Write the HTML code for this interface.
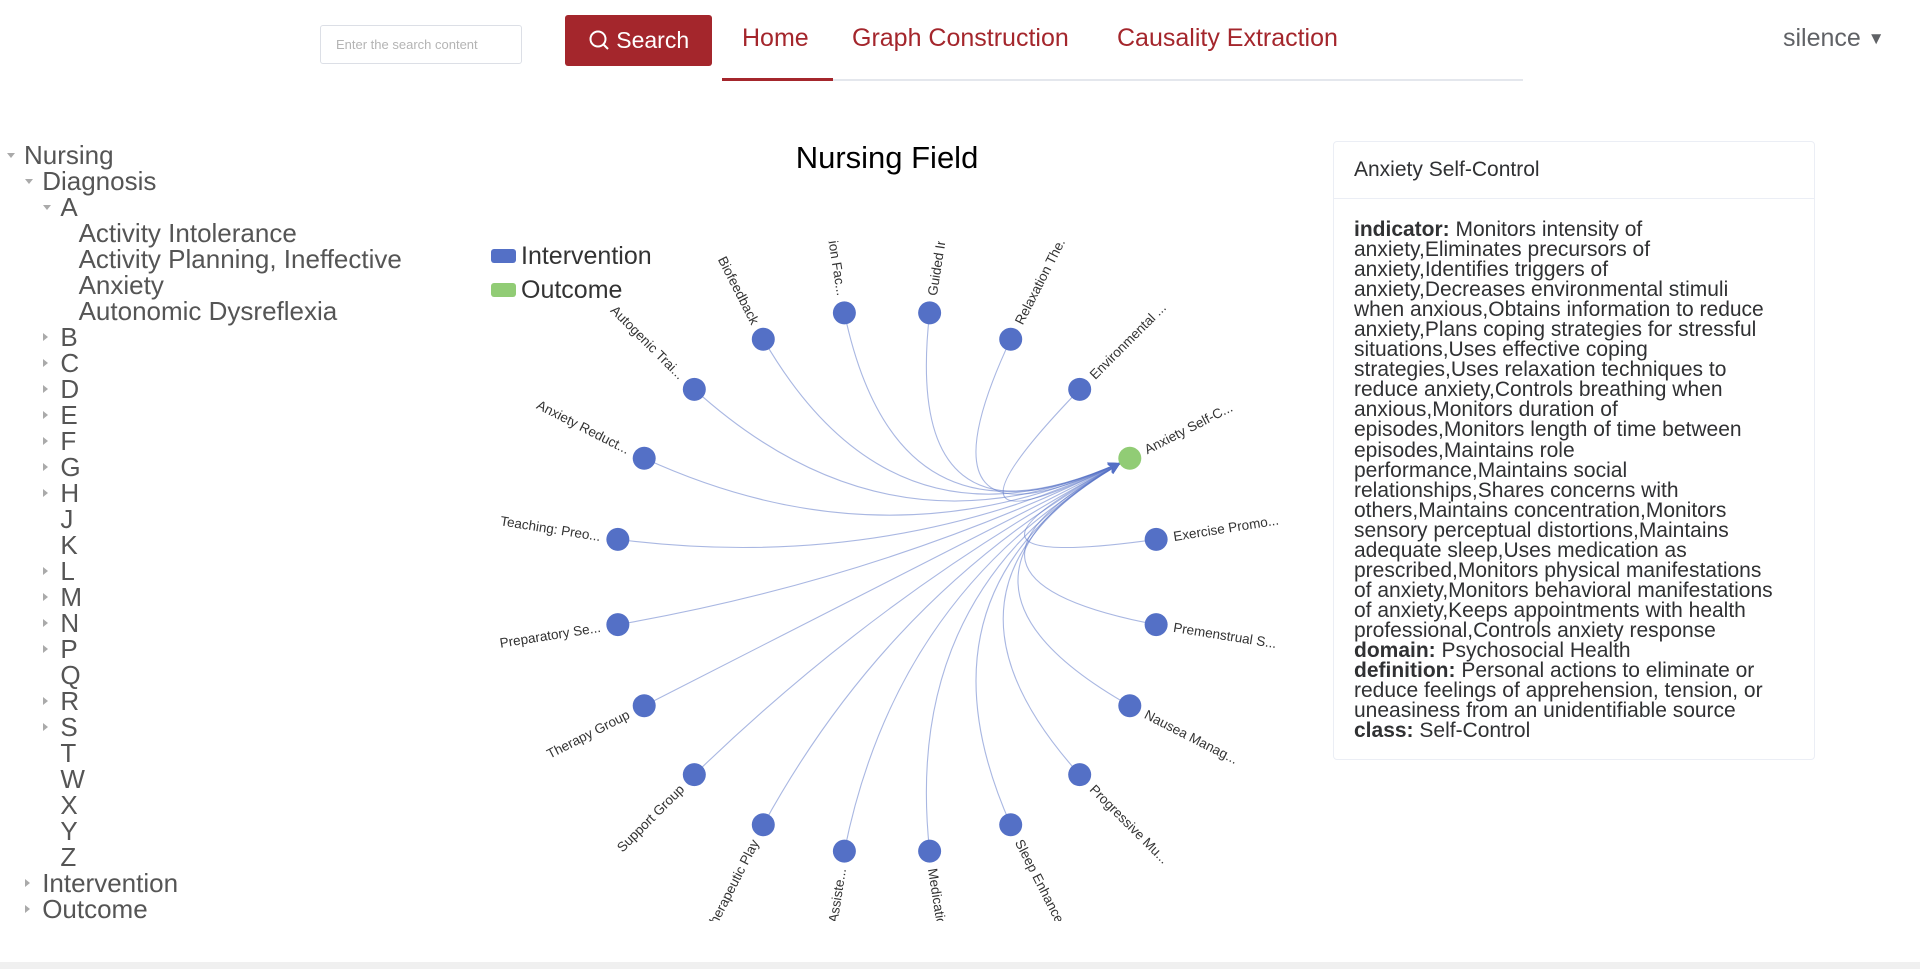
<!DOCTYPE html>
<html><head><meta charset="utf-8">
<style>
html,body{margin:0;padding:0;width:1920px;height:969px;overflow:hidden;background:#fff;font-family:"Liberation Sans","DejaVu Sans",sans-serif;}
.abs{position:absolute;}
#search-input{left:320px;top:25px;width:202px;height:39px;border:1px solid #dcdfe6;border-radius:3px;box-sizing:border-box;font-size:13px;color:#b4b4b4;padding:11px 15px;white-space:nowrap;}
#search-btn{left:565px;top:15px;width:147px;height:51px;background:#a4262c;border-radius:3px;color:#fff;font-size:23px;line-height:51px;text-align:center;}
.nav{top:24px;font-size:25px;color:#a4262c;white-space:nowrap;}
#nav-line{left:722px;top:79px;width:801px;height:2px;background:#e4e7ed;}
#nav-active{left:722px;top:78px;width:111px;height:3px;background:#a4262c;}
#user{left:1783px;top:24px;font-size:25px;color:#606266;}
.tree{position:absolute;font-size:26px;color:#555;white-space:nowrap;line-height:26px;}
.arr{position:absolute;width:0;height:0;}
.arr.down{border-left:4px solid transparent;border-right:4px solid transparent;border-top:5px solid #aaa;}
.arr.right{border-top:4px solid transparent;border-bottom:4px solid transparent;border-left:5px solid #aaa;}
#panel{left:1333px;top:141px;width:482px;height:619px;border:1px solid #ebeef5;border-radius:4px;box-sizing:border-box;}
#panel-title{position:absolute;left:20px;top:16px;font-size:21px;color:#303133;}
#panel-sep{position:absolute;left:0;top:56px;width:100%;height:1px;background:#ebeef5;}
#panel-body{position:absolute;left:20px;top:78px;font-size:21px;line-height:20.05px;color:#303133;white-space:nowrap;}
#bottom-bar{left:0;top:962px;width:1920px;height:7px;background:#f0f0f0;}
</style></head><body>
<div class="abs" id="search-input">Enter the search content</div>
<div class="abs" id="search-btn"><svg width="22" height="22" viewBox="0 0 22 22" style="vertical-align:-3px"><circle cx="10" cy="10" r="7.5" fill="none" stroke="#fff" stroke-width="2"/><line x1="15.5" y1="15.5" x2="20" y2="20" stroke="#fff" stroke-width="2"/></svg> Search</div>
<div class="abs nav" style="left:742px">Home</div>
<div class="abs nav" style="left:852px">Graph Construction</div>
<div class="abs nav" style="left:1117px">Causality Extraction</div>
<div class="abs" id="nav-line"></div>
<div class="abs" id="nav-active"></div>
<div class="abs" id="user">silence <span style="font-size:17px;position:relative;top:-2px">▼</span></div>

<div id="tree"></div>

<svg id="chart" class="abs" style="left:0;top:0" width="1920" height="969"></svg>

<div class="abs" id="panel">
<div id="panel-title">Anxiety Self-Control</div>
<div id="panel-sep"></div>
<div id="panel-body"><b>indicator:</b> Monitors intensity of<br>anxiety,Eliminates precursors of<br>anxiety,Identifies triggers of<br>anxiety,Decreases environmental stimuli<br>when anxious,Obtains information to reduce<br>anxiety,Plans coping strategies for stressful<br>situations,Uses effective coping<br>strategies,Uses relaxation techniques to<br>reduce anxiety,Controls breathing when<br>anxious,Monitors duration of<br>episodes,Monitors length of time between<br>episodes,Maintains role<br>performance,Maintains social<br>relationships,Shares concerns with<br>others,Maintains concentration,Monitors<br>sensory perceptual distortions,Maintains<br>adequate sleep,Uses medication as<br>prescribed,Monitors physical manifestations<br>of anxiety,Monitors behavioral manifestations<br>of anxiety,Keeps appointments with health<br>professional,Controls anxiety response<br><b>domain:</b> Psychosocial Health<br><b>definition:</b> Personal actions to eliminate or<br>reduce feelings of apprehension, tension, or<br>uneasiness from an unidentifiable source<br><b>class:</b> Self-Control</div>
</div>
<div class="abs" id="bottom-bar"></div>

<script>
const treeLabels = ["Nursing","Diagnosis","A","Activity Intolerance","Activity Planning, Ineffective","Anxiety","Autonomic Dysreflexia","B","C","D","E","F","G","H","J","K","L","M","N","P","Q","R","S","T","W","X","Y","Z","Intervention","Outcome"];
const treeLevels = [0,1,2,3,3,3,3,2,2,2,2,2,2,2,2,2,2,2,2,2,2,2,2,2,2,2,2,2,1,1];
const treeArrows = ["d","d","d","","","","","r","r","r","r","r","r","r","","","r","r","r","r","","r","r","","","","","","r","r"];
const tree = document.getElementById('tree');
treeLabels.forEach((t,i)=>{
  const top = 142 + i*26;
  const d = document.createElement('div');
  d.className='tree';
  d.style.left=(24+treeLevels[i]*18.2)+'px';
  d.style.top=top+'px';
  d.textContent=t;
  
  
  tree.appendChild(d);
  if(treeArrows[i]){
    const a=document.createElement('div');
    a.className='arr '+(treeArrows[i]=='d'?'down':'right');
    a.style.left=(7+treeLevels[i]*18.2)+'px';
    a.style.top=(top+(treeArrows[i]=='d'?11:9))+'px';
    
    
    tree.appendChild(a);
  }
});
</script>
<script>
const nodeNames = ["Premenstrual S...","Exercise Promo...","Anxiety Self-C...","Environmental ...","Relaxation The...","Guided In","tion Fac...","Biofeedback","Autogenic Trai...","Anxiety Reduct...","Teaching: Preo...","Preparatory Se...","Therapy Group","Support Group","Therapeutic Play","-Assiste...","Medicatio","Sleep Enhance...","Progressive Mu...","Nausea Manag..."];
const nodeCategories = [0,0,1,0,0,0,0,0,0,0,0,0,0,0,0,0,0,0,0,0];
const categoryNames = ["Intervention","Outcome"];
const categoryColors = ["#5470c6","#91cc75"];
const linkSources = [0,1,3,4,5,6,7,8,9,10,11,12,13,14,15,16,17,18,19];
const linkTargets = [2,2,2,2,2,2,2,2,2,2,2,2,2,2,2,2,2,2,2];

const NS='http://www.w3.org/2000/svg';
const svg=document.getElementById('chart');
const cx=887, cy=582, R=272.5, NR=11.5, curv=0.9;
function mk(tag,attrs,parent){const e=document.createElementNS(NS,tag);for(const k in attrs)e.setAttribute(k,attrs[k]);(parent||svg).appendChild(e);return e;}
function angleDeg(i){return -9 + 18*i;}
function pos(i){const a=angleDeg(i)*Math.PI/180;return [cx+R*Math.cos(a), cy-R*Math.sin(a)];}

const defs=mk('defs',{});
const cp=mk('clipPath',{id:'clip'},defs);
mk('rect',{x:0,y:241,width:1920,height:680},cp);
const mrk=mk('marker',{id:'arrow',viewBox:'0 0 10 10',refX:'10',refY:'5',markerWidth:'11',markerHeight:'11',orient:'auto',markerUnits:'userSpaceOnUse'},defs);
mk('path',{d:'M0,0 L10,5 L0,10 L3,5 Z',fill:'#5470c6'},mrk);

const title=mk('text',{x:887,y:168,'text-anchor':'middle','font-size':31,fill:'#000'});
title.textContent='Nursing Field';



categoryNames.forEach((c,i)=>{
  const g=mk('g',{});
  
  
  mk('rect',{x:491,y:249+i*34,width:25,height:14,rx:3,fill:categoryColors[i]},g);
  const t=mk('text',{x:521,y:264+i*34,'font-size':25,fill:'#333'},g);
  t.textContent=c;
});

const edges=mk('g',{});


linkSources.forEach((s,k)=>{
  const p1=pos(s), p2=pos(linkTargets[k]);
  const mx=(p1[0]+p2[0])/2, my=(p1[1]+p2[1])/2;
  const c=[cx*curv+mx*(1-curv), cy*curv+my*(1-curv)];
  const dx=p2[0]-c[0], dy=p2[1]-c[1], L=Math.hypot(dx,dy);
  const e=[p2[0]-dx/L*NR, p2[1]-dy/L*NR];
  const p=mk('path',{d:`M${p1[0]},${p1[1]} Q${c[0]},${c[1]} ${e[0]},${e[1]}`,fill:'none',stroke:'#5470c6','stroke-opacity':0.5,'stroke-width':1.1,'marker-end':'url(#arrow)'},edges);
  
  
});

const labels=mk('g',{'clip-path':'url(#clip)'});
nodeNames.forEach((n,i)=>{
  const [x,y]=pos(i);
  const c=mk('circle',{cx:x,cy:y,r:NR,fill:categoryColors[nodeCategories[i]]});
  
  
  const deg=angleDeg(i);
  const a=deg*Math.PI/180;
  const off=NR+6;
  const lx=cx+(R+off)*Math.cos(a), ly=cy-(R+off)*Math.sin(a);
  const right=Math.cos(a)>0;
  const rot=right?-deg:180-deg;
  const t=mk('text',{x:lx,y:ly,'font-size':13.5,fill:'#333','dominant-baseline':'central','text-anchor':right?'start':'end',transform:`rotate(${rot} ${lx} ${ly})`},labels);
  t.textContent=n;
  
  
});
</script>
</body></html>
